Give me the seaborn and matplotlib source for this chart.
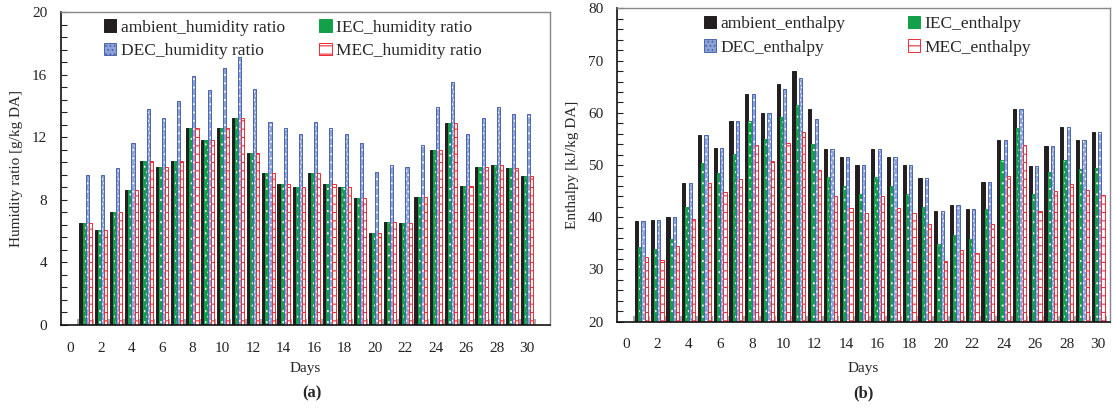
import numpy as np
import pandas as pd
import matplotlib
matplotlib.use("Agg")
import matplotlib.pyplot as plt
import matplotlib.colors as mcolors
from matplotlib.patches import Patch
from matplotlib.ticker import MultipleLocator, FixedLocator
import seaborn as sns

# ---------------- data ----------------
days = [1, 2, 3, 4, 5, 6, 7, 8, 9, 10, 11, 12, 13, 14, 15,
        16, 17, 18, 19, 20, 21, 22, 23, 24, 25, 26, 27, 28, 29, 30]

hr_ambient = [6.5, 6.1, 7.2, 8.6, 10.5, 10.1, 10.5, 12.6, 11.8, 12.6, 13.2, 11.0, 9.7, 9.0, 8.8,
              9.7, 9.0, 8.8, 8.1, 5.9, 6.6, 6.5, 8.2, 11.2, 12.9, 8.9, 10.1, 10.2, 10.0, 9.5]
hr_IEC = [6.5, 6.1, 7.2, 8.6, 10.5, 10.1, 10.5, 12.6, 11.8, 12.6, 13.2, 11.0, 9.7, 9.0, 8.8,
          9.7, 9.0, 8.8, 8.1, 5.9, 6.6, 6.5, 8.2, 11.2, 12.9, 8.9, 10.1, 10.2, 10.0, 9.5]
hr_DEC = [9.6, 9.6, 10.0, 11.6, 13.8, 13.2, 14.3, 15.9, 15.0, 16.4, 17.1, 15.1, 13.0, 12.6, 12.2,
          13.0, 12.6, 12.2, 11.6, 9.8, 10.2, 10.1, 11.5, 13.9, 15.5, 12.2, 13.2, 13.9, 13.5, 13.5]
hr_MEC = [6.5, 6.1, 7.2, 8.6, 10.5, 10.1, 10.5, 12.6, 11.8, 12.6, 13.2, 11.0, 9.7, 9.0, 8.8,
          9.7, 9.0, 8.8, 8.1, 5.9, 6.6, 6.5, 8.2, 11.2, 12.9, 8.9, 10.1, 10.2, 10.0, 9.5]

h_ambient = [39.2, 39.5, 40.0, 46.6, 55.7, 53.3, 58.5, 63.6, 60.0, 65.6, 68.0, 60.8, 53.0, 51.6, 50.0,
             53.0, 51.6, 50.0, 47.5, 41.3, 42.4, 41.6, 46.8, 54.9, 60.8, 49.8, 53.7, 57.3, 54.9, 56.4]
h_IEC = [34.3, 34.0, 35.9, 42.0, 50.4, 48.5, 52.2, 58.5, 55.0, 59.3, 61.5, 54.0, 47.7, 45.9, 44.5,
         47.7, 45.9, 44.5, 42.0, 34.9, 36.6, 35.9, 41.6, 51.0, 57.1, 44.5, 48.7, 51.0, 49.3, 49.4]
h_DEC = [39.2, 39.5, 40.0, 46.6, 55.7, 53.3, 58.5, 63.6, 60.0, 64.6, 66.6, 58.8, 53.0, 51.6, 50.0,
         53.0, 51.6, 50.0, 47.5, 41.3, 42.4, 41.6, 46.8, 54.9, 60.8, 49.8, 53.7, 57.3, 54.9, 56.4]
h_MEC = [32.4, 31.8, 34.5, 39.7, 46.6, 44.9, 47.3, 53.9, 50.8, 54.2, 56.4, 49.1, 44.1, 41.8, 40.8,
         44.0, 41.8, 40.8, 38.7, 31.7, 33.8, 33.2, 38.7, 48.0, 53.9, 41.2, 45.0, 46.4, 45.2, 44.3]

hr_labels = ["ambient_humidity ratio", "IEC_humidity ratio", "DEC_humidity ratio", "MEC_humidity ratio"]
h_labels = ["ambient_enthalpy", "IEC_enthalpy", "DEC_enthalpy", "MEC_enthalpy"]
x_ticks = [0, 2, 4, 6, 8, 10, 12, 14, 16, 18, 20, 22, 24, 26, 28, 30]

# ---------------- style ----------------
sns.set_style("ticks")
plt.rcParams["font.family"] = ["Liberation Serif", "DejaVu Serif"]
plt.rcParams["hatch.linewidth"] = 0.8

# (face, edge, hatch, hatch colour)
styles = [
    ("#231f20", "#231f20", None, None),
    ("#12a04a", "#12a04a", "...", "#e6f5e9"),
    ("#8da2d6", "#4a64b0", "....", "#ffffff"),
    ("#ffffff", "#ec2b36", "--", "#ec2b36"),
]


def long_df(series, labels):
    rows = []
    for vals, lab in zip(series, labels):
        for d, v in zip(days, vals):
            rows.append({"day": d, "value": v, "series": lab})
    return pd.DataFrame(rows)


def style_axis(ax, labels, ylim, ymaj, ymin, ylabel, xlim, ylab_x, xlab_y, colsp, legx):
    for cont, (fc, ec, hatch, hc) in zip(ax.containers, styles):
        for p in cont:
            p.set_facecolor(fc)
            p.set_edgecolor(ec)
            p.set_linewidth(0.7)
            if hatch:
                p.set_hatch(hatch)
                p._hatch_color = mcolors.to_rgba(hc)
    ax.set_xlim(*xlim)
    ax.set_ylim(*ylim)
    ax.yaxis.set_major_locator(MultipleLocator(ymaj))
    ax.yaxis.set_minor_locator(MultipleLocator(ymin))
    ax.xaxis.set_major_locator(FixedLocator(x_ticks))
    ax.set_xticklabels([str(t) for t in x_ticks])
    ax.xaxis.set_minor_locator(FixedLocator([d - 0.5 for d in days] + [days[-1] + 0.5]))
    ax.tick_params(axis="y", which="both", direction="in", length=4, width=0.8,
                   labelsize=11, pad=10, colors="#222222")
    ax.tick_params(axis="x", which="major", direction="in", length=0, labelsize=11, pad=12,
                   colors="#222222")
    ax.tick_params(axis="x", which="minor", direction="in", length=4, width=1.2, color="#999999")
    for s in ["left", "bottom"]:
        ax.spines[s].set_color("#111111")
        ax.spines[s].set_linewidth(1.2)
    for s in ["top", "right"]:
        ax.spines[s].set_visible(True)
        ax.spines[s].set_color("#888888")
        ax.spines[s].set_linewidth(1.0)
    ax.set_ylabel(ylabel, fontsize=11)
    ax.set_xlabel("Days", fontsize=11)
    ax.yaxis.set_label_coords(ylab_x, 0.5)
    ax.xaxis.set_label_coords(0.5, xlab_y)
    handles = [Patch(facecolor=fc, edgecolor=ec, hatch=h, linewidth=0.7) for fc, ec, h, _ in styles]
    order = [0, 2, 1, 3]
    leg = ax.legend([handles[i] for i in order], [labels[i] for i in order],
                    loc="upper center", bbox_to_anchor=(legx, 1.015), ncol=2, frameon=False,
                    fontsize=12.5, handlelength=0.7, handleheight=0.7, handletextpad=0.25,
                    columnspacing=colsp, labelspacing=0.42, borderaxespad=0.3)
    return leg


fig = plt.figure(figsize=(11.14, 4.12), dpi=100)
ax1 = fig.add_axes([0.0548, 0.2112, 0.4390, 0.7597])
ax2 = fig.add_axes([0.5539, 0.2192, 0.4425, 0.7602])

df1 = long_df([hr_ambient, hr_IEC, hr_DEC, hr_MEC], hr_labels)
df2 = long_df([h_ambient, h_IEC, h_DEC, h_MEC], h_labels)

sns.barplot(data=df1, x="day", y="value", hue="series", hue_order=hr_labels,
            native_scale=True, width=0.82, ax=ax1, legend=False, errorbar=None,
            palette=[s[0] for s in styles], saturation=1)
sns.barplot(data=df2, x="day", y="value", hue="series", hue_order=h_labels,
            native_scale=True, width=0.82, ax=ax2, legend=False, errorbar=None,
            palette=[s[0] for s in styles], saturation=1)

style_axis(ax1, hr_labels, (0, 20), 4, 0.8, "Humidity ratio [g/kg DA]", (-0.62, 31.5),
           -0.078, -0.118, 2.0, 0.474)
style_axis(ax2, h_labels, (20, 80), 10, 2, "Enthalpy [kJ/kg DA]", (-0.55, 30.75),
           -0.078, -0.129, 3.6, 0.508)

fig.text(0.280, 0.045, "(a)", fontsize=12, fontweight="bold", ha="center", va="center")
fig.text(0.775, 0.045, "(b)", fontsize=12, fontweight="bold", ha="center", va="center")

fig.savefig("out.png", dpi=100)
